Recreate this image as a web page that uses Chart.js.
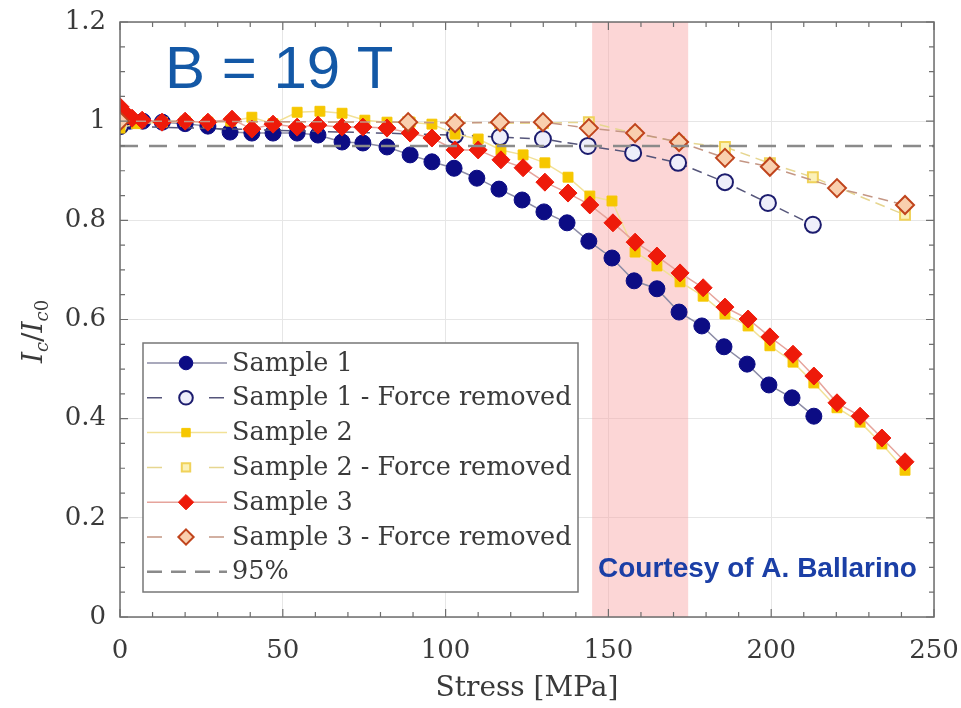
<!DOCTYPE html>
<html>
<head>
<meta charset="utf-8">
<script src="https://cdn.jsdelivr.net/npm/chart.js@4.4.0/dist/chart.umd.min.js"></script>
<style>
  html, body { margin: 0; padding: 0; background: #fff; }
  #wrap { width: 961px; height: 708px; }
</style>
</head>
<body>
<div id="wrap"><canvas id="chart"></canvas></div>
<script>
// values (stress in MPa, normalised Ic/Ic0)
var stressS1 = [0, 3, 7, 13, 20, 27, 33.8, 40.5, 47.0, 54.4, 60.8, 68.2, 74.6, 82.0, 89.1, 95.8, 102.6, 109.6, 116.4, 123.5, 130.2, 137.3, 144.0, 151.1, 157.9, 164.9, 171.7, 178.7, 185.5, 192.6, 199.3, 206.4, 213.1];
var icS1 = [0.99, 1.0, 1.0, 0.998, 0.995, 0.99, 0.978, 0.976, 0.976, 0.976, 0.972, 0.958, 0.956, 0.948, 0.932, 0.918, 0.905, 0.885, 0.863, 0.841, 0.817, 0.795, 0.758, 0.724, 0.678, 0.662, 0.615, 0.587, 0.545, 0.510, 0.468, 0.442, 0.405];

var stressS1r = [0, 102.9, 116.7, 129.9, 143.7, 157.6, 171.4, 185.8, 199.0, 212.8];
var icS1r = [0.99, 0.972, 0.968, 0.964, 0.95, 0.936, 0.916, 0.877, 0.835, 0.791];

var stressS2 = [0, 5, 13, 20, 27, 34, 40.5, 47.0, 54.4, 61.4, 68.2, 75.2, 82.0, 89.1, 95.8, 102.9, 110.0, 117.0, 123.8, 130.5, 137.6, 144.3, 151.1, 158.2, 164.9, 172.0, 179.1, 185.8, 192.9, 199.6, 206.7, 213.1, 220.2, 227.3, 234.0, 241.1];
var icS2 = [0.986, 0.995, 0.998, 1.0, 0.998, 1.0, 1.008, 0.995, 1.018, 1.02, 1.016, 1.002, 0.998, 0.998, 0.994, 0.974, 0.964, 0.942, 0.932, 0.916, 0.887, 0.849, 0.839, 0.736, 0.708, 0.676, 0.647, 0.611, 0.587, 0.547, 0.514, 0.472, 0.422, 0.393, 0.349, 0.296];

var stressS2r = [0, 88.5, 102.9, 116.7, 129.9, 144.0, 158.2, 171.7, 185.8, 199.6, 212.8, 241.1];
var icS2r = [1.0, 0.998, 0.998, 0.996, 0.996, 0.998, 0.975, 0.958, 0.948, 0.915, 0.887, 0.811];

var stressS3 = [0, 1.5, 3.7, 6.8, 12.9, 20.0, 27.0, 34.4, 40.5, 47.0, 54.4, 60.8, 68.2, 74.6, 82.0, 89.1, 95.8, 102.9, 110.0, 117.0, 123.8, 130.5, 137.6, 144.3, 151.4, 158.2, 164.9, 172.0, 179.1, 185.8, 192.9, 199.6, 206.7, 213.1, 220.2, 227.3, 234.0, 241.1];
var icS3 = [1.029, 1.017, 1.006, 1.002, 0.998, 1.0, 0.998, 1.004, 0.984, 0.994, 0.988, 0.992, 0.988, 0.988, 0.986, 0.976, 0.966, 0.942, 0.942, 0.922, 0.906, 0.877, 0.855, 0.831, 0.795, 0.756, 0.728, 0.694, 0.664, 0.625, 0.601, 0.565, 0.530, 0.486, 0.432, 0.405, 0.361, 0.313];

var stressS3r = [0, 88.5, 102.9, 116.7, 129.9, 144.0, 158.2, 171.7, 185.8, 199.6, 220.2, 241.1];
var icS3r = [1.0, 0.998, 0.996, 0.998, 0.998, 0.986, 0.976, 0.958, 0.926, 0.908, 0.865, 0.831];

var limitX = [0, 250];
var limitY = [0.95, 0.95];

var bandRange = [145, 174.5];   // shaded stress window
var legendLabels = ['Sample 1', 'Sample 1 - Force removed', 'Sample 2', 'Sample 2 - Force removed', 'Sample 3', 'Sample 3 - Force removed', '95%'];

var serif = '"DejaVu Serif", serif';

function pts(xs, ys) {
  return xs.map(function (x, i) { return { x: x, y: ys[i] }; });
}

var datasets = [
  { label: legendLabels[0], data: pts(stressS1, icS1), borderColor: '#8c8ca6', borderWidth: 1.5,
    pointStyle: 'circle', pointRadius: 8, pointBackgroundColor: '#0c0c84', pointBorderColor: '#0c0c84', pointBorderWidth: 1, order: 6 },
  { label: legendLabels[1], data: pts(stressS1r, icS1r), borderColor: '#55557a', borderWidth: 1.5, borderDash: [10, 6],
    pointStyle: 'circle', pointRadius: 8, pointBackgroundColor: '#eeeefa', pointBorderColor: '#1c1c6e', pointBorderWidth: 2, order: 5 },
  { label: legendLabels[2], data: pts(stressS2, icS2), borderColor: '#f2e197', borderWidth: 1.5,
    pointStyle: 'rect', pointRadius: 7, pointBackgroundColor: '#f6c700', pointBorderColor: '#f6c700', pointBorderWidth: 1, order: 4 },
  { label: legendLabels[3], data: pts(stressS2r, icS2r), borderColor: '#e6d690', borderWidth: 1.5, borderDash: [10, 6],
    pointStyle: 'rect', pointRadius: 7, pointBackgroundColor: '#fbf1b8', pointBorderColor: '#f0d25a', pointBorderWidth: 2, order: 3 },
  { label: legendLabels[4], data: pts(stressS3, icS3), borderColor: '#e6a49c', borderWidth: 1.5,
    pointStyle: 'rectRot', pointRadius: 9, pointBackgroundColor: '#ee1a0a', pointBorderColor: '#ee1a0a', pointBorderWidth: 1, order: 2 },
  { label: legendLabels[5], data: pts(stressS3r, icS3r), borderColor: '#c49684', borderWidth: 1.5, borderDash: [10, 6],
    pointStyle: 'rectRot', pointRadius: 9, pointBackgroundColor: '#f9cfae', pointBorderColor: '#c0441c', pointBorderWidth: 2, order: 1 },
  { label: legendLabels[6], data: pts(limitX, limitY), borderColor: '#8a8a8a', borderWidth: 2.5, borderDash: [18, 11],
    pointRadius: 0, order: 0 }
];

// small marker painter for the legend
function marker(ctx, style, r, x, y) {
  ctx.beginPath();
  if (style === 'circle') {
    ctx.arc(x, y, r, 0, Math.PI * 2);
  } else if (style === 'rect') {
    var s = r / Math.SQRT2;
    ctx.rect(x - s, y - s, 2 * s, 2 * s);
  } else {
    ctx.moveTo(x, y - r); ctx.lineTo(x + r, y); ctx.lineTo(x, y + r); ctx.lineTo(x - r, y); ctx.closePath();
  }
  ctx.fill();
  ctx.stroke();
}

var decor = {
  id: 'decor',
  beforeDatasetsDraw: function (chart) {
    var ctx = chart.ctx, a = chart.chartArea, x = chart.scales.x;
    var x0 = x.getPixelForValue(bandRange[0]), x1 = x.getPixelForValue(bandRange[1]);
    ctx.save();
    ctx.fillStyle = 'rgba(249, 165, 165, 0.45)';
    ctx.fillRect(x0, a.top, x1 - x0, a.bottom - a.top);
    ctx.restore();
  },
  afterDraw: function (chart) {
    var ctx = chart.ctx, a = chart.chartArea, xs = chart.scales.x, ys = chart.scales.y;
    ctx.save();
    // frame
    ctx.strokeStyle = '#6e6e6e';
    ctx.lineWidth = 1.5;
    ctx.strokeRect(a.left, a.top, a.right - a.left, a.bottom - a.top);
    // inward ticks on all four sides
    ctx.lineWidth = 1.2;
    ctx.beginPath();
    for (var v = 0; v <= 250; v += 10) {
      var px = xs.getPixelForValue(v), len = v % 50 === 0 ? 8 : 5;
      ctx.moveTo(px, a.bottom); ctx.lineTo(px, a.bottom - len);
      ctx.moveTo(px, a.top); ctx.lineTo(px, a.top + len);
    }
    for (var k = 0; k <= 24; k++) {
      var py = ys.getPixelForValue(k * 0.05), l2 = k % 4 === 0 ? 8 : 5;
      ctx.moveTo(a.left, py); ctx.lineTo(a.left + l2, py);
      ctx.moveTo(a.right, py); ctx.lineTo(a.right - l2, py);
    }
    ctx.stroke();

    // legend box
    var bx = 143, by = 343, bw = 435, bh = 249;
    ctx.fillStyle = '#ffffff';
    ctx.fillRect(bx, by, bw, bh);
    ctx.strokeStyle = '#777';
    ctx.lineWidth = 1.5;
    ctx.strokeRect(bx, by, bw, bh);
    ctx.font = '25.5px ' + serif;
    ctx.textBaseline = 'middle';
    ctx.textAlign = 'left';
    chart.data.datasets.forEach(function (ds, i) {
      var cy = by + 20 + i * 34.8;
      ctx.strokeStyle = ds.borderColor;
      ctx.lineWidth = ds.borderWidth;
      ctx.setLineDash(ds.borderDash ? [15, 9] : []);
      ctx.beginPath();
      if (ds.borderDash && ds.pointRadius) {
        ctx.moveTo(147, cy); ctx.lineTo(163, cy);
        ctx.moveTo(209, cy); ctx.lineTo(227, cy);
      } else {
        ctx.moveTo(147, cy); ctx.lineTo(227, cy);
      }
      ctx.stroke();
      ctx.setLineDash([]);
      if (ds.pointRadius) {
        ctx.fillStyle = ds.pointBackgroundColor;
        ctx.strokeStyle = ds.pointBorderColor;
        ctx.lineWidth = ds.pointBorderWidth;
        marker(ctx, ds.pointStyle, ds.pointRadius * 0.85, 186, cy);
      }
      ctx.fillStyle = '#3a3a3a';
      ctx.fillText(ds.label, 232, cy + 1);
    });

    // y axis title  I_c / I_c0
    ctx.translate(32, (a.top + a.bottom) / 2 + 12);
    ctx.rotate(-Math.PI / 2);
    ctx.fillStyle = '#3a3a3a';
    ctx.textBaseline = 'alphabetic';
    var parts = [
      { t: 'I', f: 'italic 28px ' + serif, dy: 0 },
      { t: 'c', f: 'italic 18px ' + serif, dy: 6 },
      { t: '/', f: '28px ' + serif, dy: 0 },
      { t: 'I', f: 'italic 28px ' + serif, dy: 0 },
      { t: 'c', f: 'italic 18px ' + serif, dy: 6 },
      { t: '0', f: '18px ' + serif, dy: 6 }
    ];
    var total = 0;
    parts.forEach(function (p) { ctx.font = p.f; p.w = ctx.measureText(p.t).width; total += p.w; });
    var cx = -total / 2;
    parts.forEach(function (p) { ctx.font = p.f; ctx.fillText(p.t, cx, 10 + p.dy); cx += p.w; });
    ctx.setTransform(1, 0, 0, 1, 0, 0);

    // annotations
    ctx.fillStyle = '#1358a6';
    ctx.font = '60px "Liberation Sans", Arial, sans-serif';
    ctx.fillText('B = 19 T', 165, 88);
    ctx.fillStyle = '#1b3fa6';
    ctx.font = 'bold 28px "Liberation Sans", Arial, sans-serif';
    ctx.fillText('Courtesy of A. Ballarino', 598, 577);
    ctx.restore();
  }
};

new Chart(document.getElementById('chart'), {
  type: 'scatter',
  data: { datasets: datasets.map(function (d) { d.showLine = true; return d; }) },
  options: {
    responsive: true,
    maintainAspectRatio: false,
    animation: false,
    devicePixelRatio: 1,
    layout: { padding: { top: 22, right: 27, left: 0, bottom: 0 } },
    plugins: { legend: { display: false }, tooltip: { enabled: false } },
    scales: {
      x: {
        type: 'linear', min: 0, max: 250,
        ticks: { stepSize: 50, padding: 19, color: '#3a3a3a', font: { family: serif, size: 26 } },
        grid: { color: '#e6e6e6', drawTicks: false },
        border: { display: false },
        title: { display: true, text: 'Stress [MPa]', color: '#3a3a3a', font: { family: serif, size: 28 }, padding: { top: 0, bottom: 2 } },
        afterFit: function (s) { s.height = 91; s.paddingLeft = 0; s.paddingRight = 0; }
      },
      y: {
        min: 0, max: 1.2,
        ticks: { stepSize: 0.2, padding: 14, color: '#3a3a3a', font: { family: serif, size: 26 },
          callback: function (v) { return String(+v.toFixed(2)); } },
        grid: { color: '#e6e6e6', drawTicks: false },
        border: { display: false },
        afterFit: function (s) { s.width = 120; s.paddingTop = 0; s.paddingBottom = 0; }
      }
    }
  },
  plugins: [decor]
});
</script>
</body>
</html>
